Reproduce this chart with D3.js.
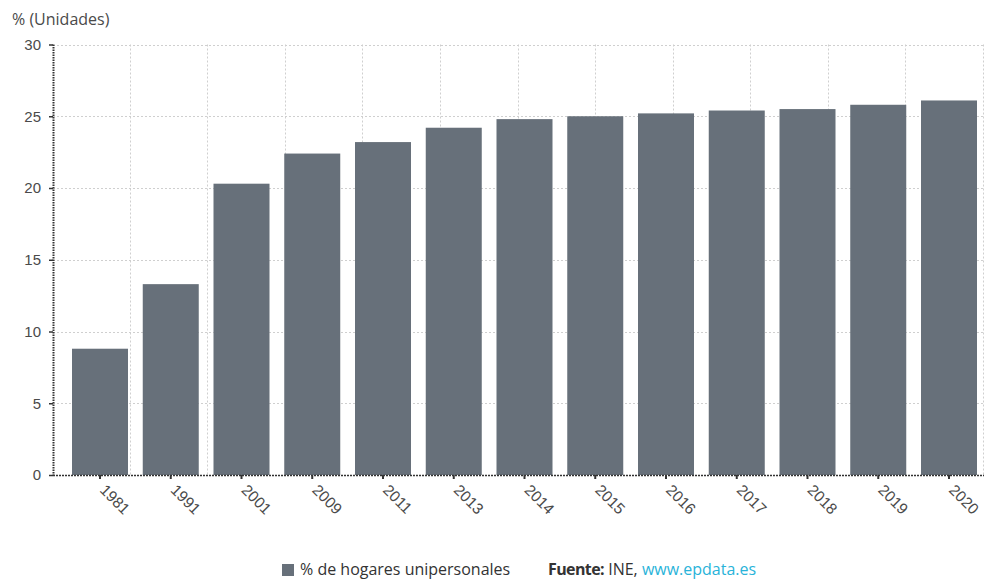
<!DOCTYPE html>
<html>
<head>
<meta charset="utf-8">
<script src="https://cdn.jsdelivr.net/npm/d3@7"></script>
<style>
  html, body { margin: 0; padding: 0; background: #fff; }
  svg { display: block; font-family: "Open Sans", "Noto Sans", sans-serif; }
</style>
</head>
<body>
<svg id="chart" width="984" height="580"></svg>
<script>
// Share of single-person households in Spain (%)
const years = ["1981", "1991", "2001", "2009", "2011", "2013", "2014", "2015", "2016", "2017", "2018", "2019", "2020"];
const values = [8.8, 13.3, 20.3, 22.4, 23.2, 24.2, 24.8, 25.0, 25.2, 25.4, 25.5, 25.8, 26.1];
const yTicks = [0, 5, 10, 15, 20, 25, 30];
const axisTitle = "% (Unidades)";
const seriesName = "% de hogares unipersonales";

const svg = d3.select("#chart");
const plotLeft = 53, plotRight = 984, plotTop = 44.5, plotBottom = 475;
const barColor = "#67707a";
const textColor = "#4a4a4a";

const y = d3.scaleLinear().domain([0, 30]).range([plotBottom, plotTop]);

// band scale laid out so bar centres sit at 100 + 70.75 * i
const step = 70.75, inner = 0.2085;
const x = d3.scaleBand()
  .domain(years)
  .range([100 - step / 2, 100 - step / 2 + step * years.length])
  .paddingInner(inner)
  .paddingOuter(inner / 2);

// horizontal gridlines
svg.append("g")
  .selectAll("line")
  .data(yTicks.filter(d => d > 0))
  .join("line")
  .attr("x1", plotLeft).attr("x2", plotRight)
  .attr("y1", d => Math.round(y(d)) + 0.5).attr("y2", d => Math.round(y(d)) + 0.5)
  .attr("stroke", "#cfcfcf")
  .attr("stroke-width", 1)
  .attr("stroke-dasharray", "2,2");

// vertical gridlines: twelve even divisions of the plot width
const gx = d3.scaleLinear().domain([0, 12]).range([plotLeft, plotRight]);
svg.append("g")
  .selectAll("line")
  .data(d3.range(1, 13))
  .join("line")
  .attr("x1", d => Math.round(gx(d)) - 0.5).attr("x2", d => Math.round(gx(d)) - 0.5)
  .attr("y1", plotTop).attr("y2", plotBottom)
  .attr("stroke", "#cfcfcf")
  .attr("stroke-width", 1)
  .attr("stroke-dasharray", "2,2");

// bars
svg.append("g")
  .selectAll("rect")
  .data(years.map((yr, i) => ({ yr, v: values[i] })))
  .join("rect")
  .attr("x", d => x(d.yr))
  .attr("y", d => y(d.v))
  .attr("width", x.bandwidth())
  .attr("height", d => y(0) - y(d.v))
  .attr("fill", barColor);

// y axis
const yAxis = svg.append("g")
  .attr("transform", `translate(${plotLeft},0)`)
  .call(d3.axisLeft(y).tickValues(yTicks).tickSize(4).tickPadding(8));
yAxis.select(".domain")
  .attr("d", `M0.5,${plotTop}V${plotBottom}`)
  .attr("stroke", "#333").attr("stroke-width", 2).attr("stroke-dasharray", "1.5,1");
yAxis.selectAll(".tick line").attr("stroke", "#333").attr("stroke-width", 1.5);
yAxis.selectAll(".tick text")
  .attr("fill", textColor)
  .style("font-size", "15px");

// x axis
const xAxis = svg.append("g")
  .attr("transform", `translate(0,${plotBottom})`)
  .call(d3.axisBottom(x).tickSize(4).tickSizeOuter(0));
xAxis.select(".domain")
  .attr("d", `M${plotLeft},0.5H${plotRight}`)
  .attr("stroke", "#333").attr("stroke-width", 1.5).attr("stroke-dasharray", "2,1");
xAxis.selectAll(".tick line").attr("stroke", "#333").attr("stroke-width", 2);
xAxis.selectAll(".tick text")
  .attr("fill", textColor)
  .style("font-size", "15.5px")
  .attr("text-anchor", "start")
  .attr("dy", 0)
  .attr("transform", "translate(-1,16) rotate(45)")
  .attr("x", 0).attr("y", 0);

// axis title
svg.append("text")
  .attr("x", 12).attr("y", 25)
  .attr("fill", textColor)
  .style("font-size", "16px")
  .text(axisTitle);

// legend and source
svg.append("rect")
  .attr("x", 282).attr("y", 564)
  .attr("width", 12).attr("height", 12)
  .attr("fill", barColor);
svg.append("text")
  .attr("x", 300).attr("y", 575)
  .attr("fill", "#333")
  .style("font-size", "16px")
  .text(seriesName);

const src = svg.append("text")
  .attr("x", 548).attr("y", 575)
  .attr("fill", "#333")
  .style("font-size", "16px");
src.append("tspan").style("font-weight", "bold").attr("letter-spacing", "-0.6").text("Fuente:");
src.append("tspan").text(" INE, ");
src.append("tspan").attr("fill", "#29b3d9").text("www.epdata.es");
</script>
</body>
</html>
